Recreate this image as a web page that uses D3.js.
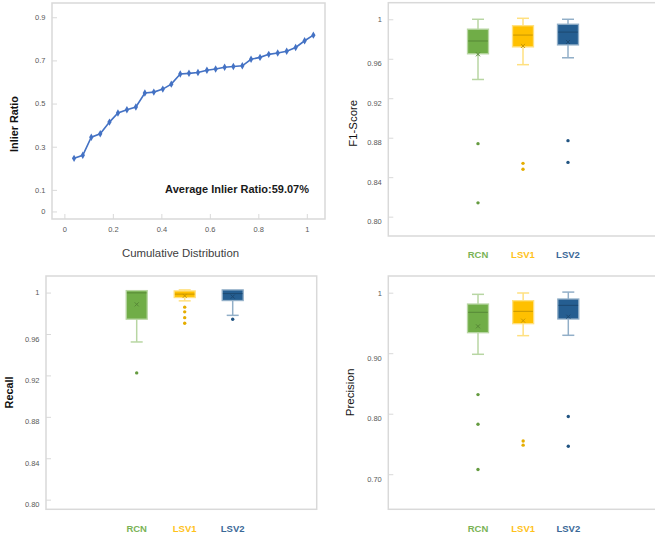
<!DOCTYPE html>
<html>
<head>
<meta charset="utf-8">
<script src="https://cdn.jsdelivr.net/npm/d3@7"></script>
<style>
  html, body { margin: 0; padding: 0; background: #fff; }
  svg { display: block; font-family: "Liberation Sans", Arial, sans-serif; }
</style>
</head>
<body>
<svg id="chart" width="655" height="538"></svg>
<script>
// ---------------- DATA ----------------
const cdfX = [0.040, 0.076, 0.111, 0.148, 0.186, 0.221, 0.258, 0.295, 0.332, 0.369,
              0.406, 0.441, 0.478, 0.514, 0.551, 0.588, 0.624, 0.661, 0.697, 0.734,
              0.770, 0.807, 0.843, 0.880, 0.917, 0.954, 0.991, 1.027];
const inlierRatio = [0.246, 0.260, 0.344, 0.360, 0.414, 0.456, 0.471, 0.484, 0.549, 0.553,
                     0.567, 0.590, 0.637, 0.640, 0.644, 0.654, 0.660, 0.668, 0.672, 0.675,
                     0.705, 0.714, 0.728, 0.734, 0.742, 0.760, 0.791, 0.817];
const cdfXTicks = [0, 0.2, 0.4, 0.6, 0.8, 1];
const cdfXTickLabels = ["0", "0.2", "0.4", "0.6", "0.8", "1"];
const inlierYTicks = [0, 0.1, 0.3, 0.5, 0.7, 0.9];
const inlierYTickLabels = ["0", "0.1", "0.3", "0.5", "0.7", "0.9"];
const averageLabel = "Average Inlier Ratio:59.07%";

const categories = ["RCN", "LSV1", "LSV2"];

const f1Low      = [0.939, 0.954, 0.961];
const f1Q1       = [0.965, 0.972, 0.974];
const f1Median   = [0.978, 0.984, 0.987];
const f1Q3       = [0.990, 0.9935, 0.995];
const f1High     = [1.000, 1.001, 1.000];
const f1Mean     = [0.9645, 0.973, 0.977];
const f1Outliers = [[0.874, 0.814], [0.854, 0.848], [0.877, 0.855]];
const f1Ticks = [0.80, 0.84, 0.88, 0.92, 0.96, 1];
const f1TickLabels = ["0.80", "0.84", "0.88", "0.92", "0.96", "1"];

const recallLow      = [0.9523, 0.992, 0.978];
const recallQ1       = [0.9743, 0.9952, 0.9923];
const recallMedian   = [0.9997, 0.9985, 0.9990];
const recallQ3       = [1.0019, 1.0016, 1.0026];
const recallHigh     = [1.0019, 1.0026, 1.0026];
const recallMean     = [0.9886, 0.9968, 0.9961];
const recallOutliers = [[0.9224], [0.9859, 0.9814, 0.9758, 0.9704], [0.9743]];
const recallTicks = [0.80, 0.84, 0.88, 0.92, 0.96, 1];
const recallTickLabels = ["0.80", "0.84", "0.88", "0.92", "0.96", "1"];

const precLow      = [0.8982, 0.929, 0.9296];
const precQ1       = [0.9339, 0.9488, 0.9565];
const precMedian   = [0.9676, 0.9692, 0.9791];
const precQ3       = [0.9813, 0.9868, 0.9896];
const precHigh     = [0.9973, 0.9995, 1.001];
const precMean     = [0.9444, 0.9538, 0.9604];
const precOutliers = [[0.8316, 0.7826, 0.7078], [0.755, 0.748], [0.7953, 0.7463]];
const precTicks = [0.70, 0.80, 0.90, 1];
const precTickLabels = ["0.70", "0.80", "0.90", "1"];

const seriesColors = ["#70AD47", "#FFC000", "#255E91"];
const labelColors  = ["#7AB356", "#FFC21A", "#3A6897"];

// ---------------- DRAWING ----------------
const svg = d3.select("#chart");
const frameColor = "#d9d9d9";
const tickTextColor = "#595959";

function frame(x0, y0, x1, y1) {
  svg.append("rect")
    .attr("x", x0).attr("y", y0)
    .attr("width", x1 - x0).attr("height", y1 - y0)
    .attr("fill", "none").attr("stroke", frameColor).attr("stroke-width", 1.5);
}

function leftAxis(scale, x0, ticks, labels, shiftNonOne) {
  const g = svg.append("g").attr("transform", `translate(${x0},0)`)
    .call(d3.axisLeft(scale).tickValues(ticks)
      .tickFormat((d, i) => labels[i]).tickSizeInner(-5).tickSizeOuter(0).tickPadding(6.5));
  g.select(".domain").remove();
  g.selectAll(".tick line").attr("stroke", frameColor).attr("stroke-width", 1);
  g.selectAll(".tick text")
    .attr("fill", tickTextColor)
    .attr("font-size", 7.5)
    .attr("font-family", "'Liberation Sans', Arial, sans-serif")
    .attr("dy", d => (shiftNonOne && d !== 1) ? "0.95em" : "0.32em");
  return g;
}

function yTitle(text, cx, cy, bold, size) {
  svg.append("text")
    .attr("transform", `translate(${cx},${cy}) rotate(-90)`)
    .attr("text-anchor", "middle")
    .attr("dy", "0.35em")
    .attr("font-size", size)
    .attr("font-weight", bold ? "bold" : "normal")
    .attr("fill", "#111")
    .text(text);
}

// ---- Panel 1: Inlier ratio line ----
{
  const x = d3.scaleLinear().domain([-0.051, 1.075]).range([52, 325]);
  const y = d3.scaleLinear().domain([-0.035, 0.966]).range([219, 3]);
  frame(52, 3, 325, 219);
  leftAxis(y, 52, inlierYTicks, inlierYTickLabels, false);
  const gx = svg.append("g").attr("transform", "translate(0,219)")
    .call(d3.axisBottom(x).tickValues(cdfXTicks)
      .tickFormat((d, i) => cdfXTickLabels[i]).tickSizeInner(-5).tickSizeOuter(0).tickPadding(8));
  gx.select(".domain").remove();
  gx.selectAll(".tick line").attr("stroke", frameColor);
  gx.selectAll(".tick text").attr("fill", tickTextColor).attr("font-size", 7.5)
    .attr("font-family", "'Liberation Sans', Arial, sans-serif");

  const pts = cdfX.map((v, i) => [v, inlierRatio[i]]);
  svg.append("path").datum(pts)
    .attr("fill", "none").attr("stroke", "#4472C4").attr("stroke-width", 1.6)
    .attr("d", d3.line().x(d => x(d[0])).y(d => y(d[1])));
  svg.append("g").selectAll("path").data(pts).join("path")
    .attr("transform", d => `translate(${x(d[0])},${y(d[1])})`)
    .attr("d", d3.symbol(d3.symbolDiamond, 16))
    .attr("fill", "#4472C4");

  svg.append("text").attr("x", 309).attr("y", 193)
    .attr("text-anchor", "end").attr("font-size", 11).attr("font-weight", "bold")
    .attr("fill", "#1a1a1a").text(averageLabel);

  svg.append("text").attr("x", 180.5).attr("y", 257)
    .attr("text-anchor", "middle").attr("font-size", 11.4).attr("fill", "#404040")
    .text("Cumulative Distribution");
  yTitle("Inlier Ratio", 14.3, 124, true, 10.8);
}

// ---- Box plot helper ----
function boxPanel(opts) {
  const { x0, y0, x1, y1, domain, ticks, tickLabels, cx, labelY,
          low, q1, median, q3, high, mean, outliers } = opts;
  const y = d3.scaleLinear().domain(domain).range([y1, y0]);
  const x = d3.scalePoint().domain(categories).range(cx);
  frame(x0, y0, x1, y1);
  leftAxis(y, x0, ticks, tickLabels, true);

  const bw = 21, cap = 6;
  categories.forEach((c, i) => {
    const col = seriesColors[i];
    const light = d3.interpolateRgb(col, "#ffffff")(0.5);
    const dark = d3.color(col).darker(0.7).formatHex();
    const g = svg.append("g");
    const xc = x(c);
    // whiskers
    g.append("line").attr("x1", xc).attr("x2", xc).attr("y1", y(low[i])).attr("y2", y(q1[i]))
      .attr("stroke", light).attr("stroke-width", 1.5);
    g.append("line").attr("x1", xc).attr("x2", xc).attr("y1", y(q3[i])).attr("y2", y(high[i]))
      .attr("stroke", light).attr("stroke-width", 1.5);
    g.append("line").attr("x1", xc - cap).attr("x2", xc + cap).attr("y1", y(low[i])).attr("y2", y(low[i]))
      .attr("stroke", light).attr("stroke-width", 1.5);
    if (high[i] > q3[i]) {
      g.append("line").attr("x1", xc - cap).attr("x2", xc + cap).attr("y1", y(high[i])).attr("y2", y(high[i]))
        .attr("stroke", light).attr("stroke-width", 1.5);
    }
    // box
    g.append("rect").attr("x", xc - bw / 2).attr("width", bw)
      .attr("y", y(q3[i])).attr("height", y(q1[i]) - y(q3[i]))
      .attr("fill", col).attr("stroke", light).attr("stroke-width", 1.3);
    // median
    g.append("line").attr("x1", xc - bw / 2 + 0.7).attr("x2", xc + bw / 2 - 0.7)
      .attr("y1", y(median[i])).attr("y2", y(median[i]))
      .attr("stroke", dark).attr("stroke-width", 1);
    // mean
    const my = y(mean[i]), s = 2;
    g.append("path").attr("d", `M${xc - s},${my - s}L${xc + s},${my + s}M${xc - s},${my + s}L${xc + s},${my - s}`)
      .attr("stroke", dark).attr("stroke-width", 1);
    // outliers
    g.selectAll("circle").data(outliers[i]).join("circle")
      .attr("cx", xc).attr("cy", d => y(d)).attr("r", 1.7)
      .attr("fill", d3.color(col).darker(0.3).formatHex());
    // category label
    svg.append("text").attr("x", xc).attr("y", labelY).attr("dy", "0.35em")
      .attr("text-anchor", "middle").attr("font-size", 9.5).attr("font-weight", "bold")
      .attr("fill", labelColors[i]).text(c);
  });
}

// ---- Panel 2: F1 ----
boxPanel({ x0: 388.3, y0: 2.7, x1: 660, y1: 236, domain: [0.7804, 1.0168],
  ticks: f1Ticks, tickLabels: f1TickLabels, cx: [478, 568], labelY: 254.7,
  low: f1Low, q1: f1Q1, median: f1Median, q3: f1Q3, high: f1High, mean: f1Mean, outliers: f1Outliers });
yTitle("F1-Score", 353.3, 123.3, false, 11.4);

// ---- Panel 3: Recall ----
boxPanel({ x0: 46, y0: 276, x1: 316.7, y1: 509.3, domain: [0.7907, 1.016],
  ticks: recallTicks, tickLabels: recallTickLabels, cx: [136.7, 232.7], labelY: 528.3,
  low: recallLow, q1: recallQ1, median: recallMedian, q3: recallQ3, high: recallHigh, mean: recallMean, outliers: recallOutliers });
yTitle("Recall", 9, 392.5, true, 10.8);

// ---- Panel 4: Precision ----
boxPanel({ x0: 388.3, y0: 276, x1: 660, y1: 509.3, domain: [0.642, 1.0276],
  ticks: precTicks, tickLabels: precTickLabels, cx: [478, 568.3], labelY: 528.3,
  low: precLow, q1: precQ1, median: precMedian, q3: precQ3, high: precHigh, mean: precMean, outliers: precOutliers });
yTitle("Precision", 350.3, 392.5, false, 11.6);
</script>
</body>
</html>
